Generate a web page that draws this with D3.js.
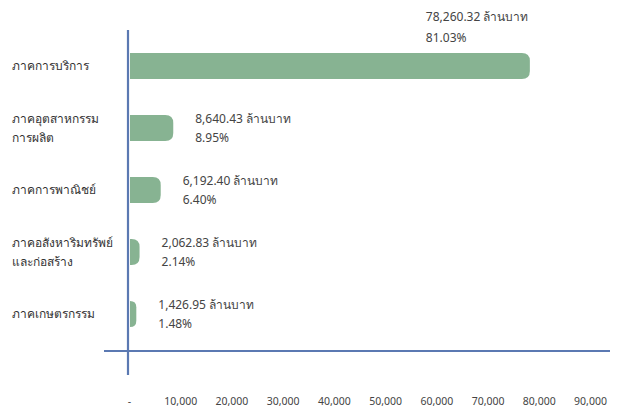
<!DOCTYPE html>
<html><head><meta charset="utf-8">
<script src="https://cdn.jsdelivr.net/npm/d3@7"></script>
<style>body{margin:0;background:#fff;} text{font-family:"Noto Sans","DejaVu Sans",sans-serif;}</style>
</head><body>
<svg id="c" width="621" height="409"></svg>
<script>
const categories = [["ภาคการบริการ"],["ภาคอุตสาหกรรม","การผลิต"],["ภาคการพาณิชย์"],["ภาคอสังหาริมทรัพย์","และก่อสร้าง"],["ภาคเกษตรกรรม"]];
const values = [78260.32, 8640.43, 6192.40, 2062.83, 1426.95];
const valueLabels = ["78,260.32 ล้านบาท","8,640.43 ล้านบาท","6,192.40 ล้านบาท","2,062.83 ล้านบาท","1,426.95 ล้านบาท"];
const percentLabels = ["81.03%","8.95%","6.40%","2.14%","1.48%"];
const tickValues = [0,10000,20000,30000,40000,50000,60000,70000,80000,90000];
const tickLabels = ["-","10,000","20,000","30,000","40,000","50,000","60,000","70,000","80,000","90,000"];

const svg = d3.select("#c");
const x = d3.scaleLinear().domain([0,90000]).range([129,590]);
const y = d3.scaleBand().domain(d3.range(values.length)).range([35,345]).paddingInner(0.58).paddingOuter(0.29);
const green = "#87b392", axisC = "#5b79b2";

const r = 8;
svg.selectAll("path.bar").data(values).join("path").attr("class","bar")
  .attr("fill",green)
  .attr("d",(d,i)=>{
    const x0 = x(0)+1, x1 = x(d), y0 = y(i), h = y.bandwidth();
    const rr = Math.min(r, (x1-x0), h/2);
    return `M${x0},${y0}H${x1-rr}Q${x1},${y0} ${x1},${y0+rr}V${y0+h-rr}Q${x1},${y0+h} ${x1-rr},${y0+h}H${x0}Z`;
  });

svg.append("line").attr("x1",x(0)-1).attr("x2",x(0)-1).attr("y1",30).attr("y2",375).attr("stroke",axisC).attr("stroke-width",2.2);
svg.append("line").attr("x1",104).attr("x2",610).attr("y1",351).attr("y2",351).attr("stroke",axisC).attr("stroke-width",2.2);

categories.forEach((lines,i)=>{
  const cy = y(i)+y.bandwidth()/2;
  const n = lines.length;
  lines.forEach((t,j)=>{
    svg.append("text").attr("x",12).attr("y",cy + (j-(n-1)/2)*19).attr("dy","0.35em")
      .attr("font-size",12).attr("fill","#333").text(t);
  });
});

values.forEach((v,i)=>{
  const cy = y(i)+y.bandwidth()/2;
  let lx, y1, y2;
  if (i===0) { lx = x(v)-104; y1 = 17; y2 = 38; }
  else { lx = x(v)+22; y1 = cy-9; y2 = cy+10; }
  svg.append("text").attr("x",lx).attr("y",y1).attr("dy","0.35em").attr("font-size",12).attr("fill","#444").text(valueLabels[i]);
  svg.append("text").attr("x",lx).attr("y",y2).attr("dy","0.35em").attr("font-size",12).attr("fill","#444").text(percentLabels[i]);
});

const tickG = svg.append("g").attr("transform","translate(0,401)");
const ax = d3.axisBottom(x).tickValues(tickValues).tickFormat((d,i)=>tickLabels[i]).tickSize(0).tickPadding(0);
tickG.call(ax);
tickG.select(".domain").remove();
tickG.selectAll("text").attr("dy","0.35em").attr("y",0).attr("font-size",10.5).attr("fill","#444")
  .style("font-family","'Noto Sans','DejaVu Sans',sans-serif");
</script>
</body></html>
